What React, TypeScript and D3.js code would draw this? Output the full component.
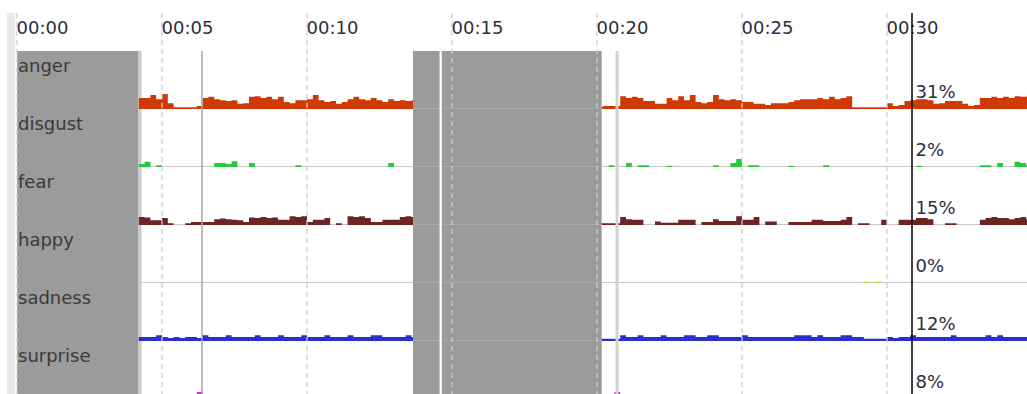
import React from 'react';
import * as d3 from 'd3';

// ---------- data ----------
const emotions = ['anger', 'disgust', 'fear', 'happy', 'sadness', 'surprise'];
const emotionColors = ['#cf3a04', '#22cc3a', '#6c2424', '#cccc33', '#2a30cc', '#cc33cc'];
const currentValues = ['31%', '2%', '15%', '0%', '12%', '8%'];
const tickSeconds = [0, 5, 10, 15, 20, 25, 30];
const tickLabels = ['00:00', '00:05', '00:10', '00:15', '00:20', '00:25', '00:30'];

// samples every 0.2 s, three recorded stretches starting at these seconds
const segmentStarts = [4.2, 14.4, 20.0];
const sampleStep = 0.2;

// values in percent
const anger = [
  [19, 19, 24, 17, 26, 10, 3, 3, 3, 3, 5, 19, 21, 17, 15, 14, 15, 9, 10, 21, 22, 19, 21, 17, 21, 12, 10, 15, 15, 17, 24, 15, 12, 14, 9, 12, 17, 21, 17, 15, 19, 15, 12, 17, 14, 15, 14, 15],
  [3, 3],
  [3, 5, 5, 5, 22, 19, 21, 19, 14, 14, 9, 9, 19, 15, 22, 15, 24, 12, 10, 12, 24, 17, 15, 17, 15, 12, 12, 9, 9, 7, 10, 10, 10, 12, 15, 17, 17, 17, 19, 17, 21, 17, 19, 22, 3, 3, 3, 3, 3, 3, 10, 5, 7, 14, 15, 17, 17, 15, 9, 10, 14, 14, 14, 9, 5, 7, 19, 19, 21, 19, 21, 19, 22, 21, 22],
];
const disgust = [
  [5, 9, 0, 3, 0, 0, 0, 0, 0, 0, 0, 0, 0, 7, 7, 5, 10, 0, 0, 7, 0, 0, 0, 0, 0, 0, 0, 3, 0, 0, 0, 0, 0, 0, 0, 0, 0, 0, 0, 0, 0, 0, 0, 7, 0, 0, 0, 0],
  [0, 5],
  [0, 0, 3, 0, 0, 7, 0, 3, 3, 0, 0, 0, 2, 0, 0, 0, 0, 0, 0, 0, 3, 0, 0, 7, 14, 0, 3, 3, 0, 0, 0, 0, 0, 2, 0, 0, 0, 0, 0, 3, 0, 0, 0, 0, 0, 0, 0, 0, 0, 0, 0, 0, 0, 0, 0, 2, 0, 0, 0, 0, 0, 0, 0, 0, 0, 0, 3, 3, 0, 7, 0, 0, 9, 7, 3],
];
const fear = [
  [14, 13, 8, 8, 12, 3, 0, 0, 3, 5, 5, 5, 5, 10, 11, 10, 9, 8, 5, 13, 12, 14, 12, 13, 9, 9, 15, 14, 15, 5, 9, 9, 12, 0, 3, 0, 15, 14, 15, 12, 5, 5, 9, 9, 9, 14, 15, 14],
  [3, 3],
  [3, 3, 3, 3, 14, 10, 9, 9, 0, 0, 6, 4, 4, 4, 9, 9, 9, 0, 5, 5, 10, 7, 7, 7, 15, 9, 9, 14, 0, 6, 6, 0, 0, 5, 5, 5, 5, 9, 9, 7, 7, 7, 9, 14, 0, 3, 3, 0, 0, 9, 0, 0, 9, 9, 9, 12, 12, 10, 0, 0, 3, 3, 0, 0, 0, 0, 9, 12, 14, 12, 12, 10, 12, 14, 10],
];
const happy = [
  [0, 0, 0, 0, 0, 0, 0, 0, 0, 0, 0, 0, 0, 0, 0, 0, 0, 0, 0, 0, 0, 0, 0, 0, 0, 0, 0, 0, 0, 0, 0, 0, 0, 0, 0, 0, 0, 0, 0, 0, 0, 0, 0, 0, 0, 0, 0, 0],
  [0, 2],
  [0, 0, 0, 0, 0, 0, 0, 0, 0, 0, 0, 0, 0, 0, 0, 0, 0, 0, 0, 0, 0, 0, 0, 0, 0, 0, 0, 0, 0, 0, 0, 0, 0, 0, 0, 0, 0, 0, 0, 0, 0, 0, 0, 0, 0, 0, 2, 0, 2, 0, 0, 0, 0, 0, 0, 0, 0, 0, 0, 0, 0, 0, 0, 0, 0, 0, 0, 0, 0, 0, 0, 0, 0, 0, 0],
];
const sadness = [
  [7, 7, 7, 10, 7, 5, 7, 5, 7, 7, 5, 10, 7, 7, 7, 10, 7, 7, 7, 7, 10, 7, 7, 7, 10, 7, 7, 7, 10, 7, 7, 7, 10, 7, 7, 7, 10, 7, 7, 7, 10, 10, 7, 7, 7, 7, 10, 7],
  [3, 3],
  [4, 4, 4, 4, 10, 7, 7, 10, 7, 7, 7, 10, 7, 7, 7, 10, 10, 7, 7, 10, 10, 7, 7, 7, 7, 10, 7, 7, 7, 7, 7, 7, 7, 7, 10, 10, 10, 7, 10, 7, 7, 7, 10, 10, 7, 7, 4, 4, 4, 4, 7, 5, 7, 7, 10, 7, 7, 7, 7, 7, 7, 10, 7, 7, 7, 7, 7, 10, 7, 10, 7, 7, 7, 7, 7],
];
const surprise = [
  [5, 5, 6, 5, 5, 4, 4, 4, 5, 5, 12, 6, 5, 5, 6, 5, 5, 5, 6, 5, 5, 5, 5, 6, 5, 5, 5, 5, 6, 5, 5, 5, 6, 5, 5, 5, 5, 6, 5, 5, 5, 5, 6, 5, 5, 5, 5, 5],
  [4, 4],
  [4, 4, 4, 12, 6, 5, 5, 6, 5, 5, 5, 6, 5, 5, 5, 6, 5, 5, 5, 5, 6, 5, 5, 5, 6, 5, 5, 5, 5, 6, 5, 5, 5, 6, 5, 5, 5, 5, 6, 5, 5, 5, 6, 5, 4, 4, 4, 4, 4, 5, 5, 5, 6, 5, 5, 5, 6, 5, 5, 5, 5, 6, 5, 5, 5, 5, 6, 5, 5, 5, 6, 5, 5, 5, 5],
];
const allSeries = [anger, disgust, fear, happy, sadness, surprise];

// time spans (seconds) with no face detected
const noFaceSpans = [[0, 4.172], [13.655, 20.162]];
const markerTimes = [6.379, 20.69];
const splitTime = 14.61;
const cursorTime = 30.862;

// ---------- layout ----------
const W = 1027;
const H = 394;
const TOP = 13;
const ROW_TOP = 51;
const ROW_H = 58;
const FONT = '"DejaVu Sans", Verdana, sans-serif';

export default function App() {
  const x = d3.scaleLinear().domain([0, 30]).range([17, 887]);
  const hScale = d3.scaleLinear().domain([0, 100]).range([0, ROW_H]);
  const rowBottom = (i: number) => ROW_TOP + ROW_H * (i + 1);
  const dataLeft = x(noFaceSpans[0][1]);

  const paths: { d: string; color: string }[] = [];
  allSeries.forEach((segs, r) => {
    const b = rowBottom(r);
    const area = d3
      .area<[number, number]>()
      .x((d) => x(d[0]))
      .y0(b)
      .y1((d) => b - hScale(d[1]))
      .curve(d3.curveStepAfter);
    segs.forEach((vals, s) => {
      const start = segmentStarts[s];
      const pts: [number, number][] = vals.map((v, i) => [start + i * sampleStep, v]);
      pts.push([start + vals.length * sampleStep, vals[vals.length - 1]]);
      paths.push({ d: area(pts) || '', color: emotionColors[r] });
    });
  });

  const mid = noFaceSpans[1];

  return (
    <svg
      width={W}
      height={H}
      style={{ position: 'absolute', left: 0, top: 0, background: '#fff', overflow: 'hidden' }}
    >
      <rect x={0} y={0} width={W} height={H} fill="#fff" />
      <rect x={7} y={TOP} width={8} height={H - TOP} fill="#e9e9e9" />
      <rect x={dataLeft} y={ROW_TOP} width={3.5} height={H - ROW_TOP} fill="#cacaca" />

      {emotions.map((e, i) => (
        <line key={'bl' + e} x1={dataLeft} x2={W} y1={rowBottom(i) - 0.5} y2={rowBottom(i) - 0.5} stroke="#c8c8c8" strokeWidth={1.2} />
      ))}

      {paths.map((p, i) => (
        <path key={'a' + i} d={p.d} fill={p.color} />
      ))}

      {noFaceSpans.map((s, i) => (
        <rect key={'nf' + i} x={x(s[0])} y={ROW_TOP} width={x(s[1]) - x(s[0])} height={H - ROW_TOP} fill="#9b9b9b" />
      ))}

      {emotions.map((e, i) => (
        <line key={'blm' + e} x1={x(mid[0])} x2={x(mid[1])} y1={rowBottom(i) - 0.5} y2={rowBottom(i) - 0.5} stroke="#a9a9a9" strokeWidth={1.2} />
      ))}

      <line x1={x(splitTime)} x2={x(splitTime)} y1={ROW_TOP} y2={H} stroke="#ffffff" strokeWidth={2.2} />

      {tickSeconds.map((t) => (
        <line key={'g' + t} x1={x(t)} x2={x(t)} y1={TOP} y2={H} stroke="#cfcfcf" strokeWidth={1.3} strokeDasharray="5 4" />
      ))}

      <line x1={x(markerTimes[0])} x2={x(markerTimes[0])} y1={ROW_TOP} y2={H} stroke="#a6a6a6" strokeWidth={1.5} />
      <line x1={x(markerTimes[1])} x2={x(markerTimes[1])} y1={ROW_TOP} y2={H} stroke="#d2d2d2" strokeWidth={3} />

      {tickSeconds.map((t, i) => (
        <text key={'t' + t} x={x(t) - 0.5} y={34} fontFamily={FONT} fontSize={18} fill="#2e2e3e">
          {tickLabels[i]}
        </text>
      ))}

      <line x1={x(cursorTime)} x2={x(cursorTime)} y1={TOP} y2={H} stroke="#111" strokeWidth={1.6} />

      {emotions.map((e, i) => (
        <text key={'l' + e} x={18} y={ROW_TOP + ROW_H * i + 20.5} fontFamily={FONT} fontSize={18} fill="#3a3a3a">
          {e}
        </text>
      ))}

      {currentValues.map((v, i) => (
        <text key={'p' + i} x={x(cursorTime) + 3.5} y={rowBottom(i) - 11} fontFamily={FONT} fontSize={18} fill="#2e2e3e">
          {v}
        </text>
      ))}
    </svg>
  );
}
